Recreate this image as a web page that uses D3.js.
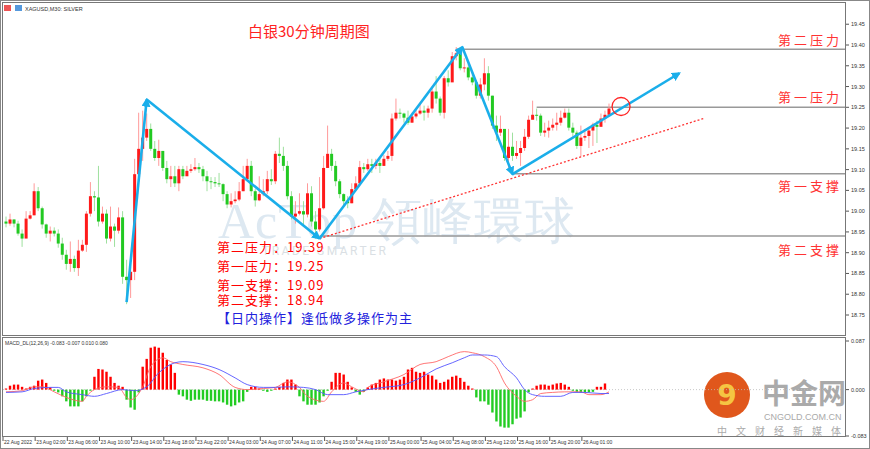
<!DOCTYPE html>
<html><head><meta charset="utf-8">
<script src="https://cdn.jsdelivr.net/npm/d3@7"></script>
<style>body{margin:0;background:#fff}svg{display:block}</style>
</head><body>
<script>
const firstOpen = 18.975;
const closes = [18.970,18.980,18.970,18.946,18.934,18.982,18.990,19.048,19.007,18.968,18.946,18.953,18.946,18.922,18.895,18.873,18.885,18.863,18.905,18.919,18.994,19.036,19.033,18.975,18.994,18.934,18.963,18.953,18.985,18.842,18.834,18.854,19.089,19.150,19.177,19.198,19.150,19.128,19.145,19.104,19.077,19.084,19.067,19.101,19.084,19.097,19.101,19.106,19.101,19.084,19.072,19.070,19.067,19.065,19.041,19.016,19.024,19.028,19.048,19.077,19.109,19.048,19.026,19.041,19.048,19.077,19.072,19.138,19.133,19.109,19.036,18.987,18.994,19.000,18.992,19.043,18.975,18.956,19.007,19.104,19.138,19.109,19.072,19.041,19.024,19.019,19.053,19.067,19.106,19.101,19.113,19.109,19.116,19.109,19.126,19.133,19.223,19.237,19.235,19.225,19.213,19.228,19.235,19.242,19.237,19.247,19.288,19.271,19.237,19.320,19.310,19.373,19.380,19.344,19.346,19.322,19.310,19.278,19.305,19.332,19.278,19.206,19.189,19.198,19.128,19.155,19.133,19.140,19.152,19.179,19.220,19.232,19.230,19.189,19.194,19.201,19.208,19.213,19.225,19.237,19.201,19.189,19.157,19.177,19.181,19.194,19.208,19.203,19.223,19.232,19.247];
const highs = [18.987,18.994,18.980,18.977,18.956,19.000,19.000,19.067,19.058,19.011,18.970,18.963,18.961,18.956,18.936,18.907,18.927,18.893,18.931,18.931,19.000,19.070,19.048,19.109,19.011,19.004,19.011,18.970,19.009,19.000,18.883,18.866,19.126,19.237,19.242,19.235,19.211,19.169,19.172,19.145,19.121,19.109,19.109,19.109,19.109,19.109,19.113,19.128,19.116,19.109,19.097,19.082,19.082,19.092,19.067,19.048,19.043,19.048,19.070,19.109,19.126,19.121,19.053,19.084,19.077,19.097,19.101,19.145,19.177,19.155,19.121,19.048,19.024,19.043,19.024,19.067,19.060,19.000,19.082,19.133,19.206,19.150,19.121,19.077,19.043,19.036,19.067,19.084,19.121,19.116,19.126,19.126,19.126,19.128,19.135,19.145,19.235,19.271,19.247,19.237,19.242,19.237,19.247,19.259,19.254,19.254,19.300,19.325,19.276,19.325,19.339,19.383,19.395,19.395,19.368,19.354,19.334,19.315,19.320,19.368,19.349,19.278,19.230,19.230,19.194,19.198,19.189,19.169,19.169,19.198,19.230,19.266,19.247,19.235,19.213,19.218,19.223,19.237,19.242,19.247,19.247,19.213,19.194,19.206,19.198,19.198,19.213,19.218,19.235,19.242,19.259];
const lows = [18.961,18.965,18.961,18.941,18.914,18.939,18.980,18.990,19.000,18.958,18.936,18.927,18.939,18.912,18.883,18.859,18.854,18.854,18.844,18.902,18.902,18.987,19.000,18.963,18.970,18.922,18.927,18.914,18.946,18.825,18.776,18.791,18.834,19.092,19.121,19.169,19.145,19.121,19.109,19.097,19.067,19.058,19.058,19.048,19.077,19.087,19.092,19.097,19.092,19.072,19.048,19.053,19.058,19.058,19.024,19.007,19.009,19.019,19.024,19.048,19.101,19.036,19.011,19.024,19.036,19.041,19.063,19.065,19.116,19.097,19.028,18.980,18.970,18.990,18.963,18.985,18.963,18.934,18.951,19.004,19.121,19.097,19.060,19.031,19.011,19.007,19.019,19.048,19.060,19.092,19.097,19.092,19.101,19.092,19.109,19.121,19.121,19.218,19.223,19.213,19.208,19.213,19.223,19.232,19.218,19.225,19.237,19.259,19.230,19.223,19.300,19.327,19.363,19.339,19.334,19.315,19.303,19.271,19.271,19.291,19.266,19.198,19.169,19.181,19.121,19.097,19.121,19.126,19.109,19.145,19.174,19.223,19.218,19.181,19.179,19.177,19.194,19.194,19.206,19.223,19.194,19.179,19.150,19.131,19.169,19.152,19.157,19.164,19.206,19.213,19.230];
// MACD in thousandths
const histK = [2,7,9,9,5,2,5,7,16,18,12,4,-2,-5,-12,-21,-30,-30,-30,-21,-12,-2,23,37,36,32,23,12,7,5,-18,-32,-36,-5,41,55,75,77,75,66,53,45,30,-9,-12,-18,-20,-18,-18,-18,-20,-20,-21,-21,-23,-27,-30,-28,-23,-21,-4,5,5,2,-2,-4,-2,2,5,12,18,18,9,-12,-21,-27,-27,-27,-23,-12,-2,14,30,30,27,14,4,-4,-9,-4,4,9,12,18,20,18,18,16,18,23,36,39,32,30,32,27,25,18,12,14,18,23,25,21,14,7,2,-14,-21,-21,-27,-41,-57,-66,-68,-68,-62,-52,-50,-39,-5,2,7,9,9,7,9,11,12,9,5,-2,-4,-5,-5,-5,-4,5,5,11];
const macdIdx = [0,4,7,9,12,15,19,20,22,25,28,30,31,34,36,39,41,44,49,53,57,60,64,67,70,73,75,79,81,84,86,89,90,94,99,103,107,110,114,116,119,122,124,127,129,131,133,136,139,143,145,148,150];
const macdK = [-4,-2,5,5,-4,-14,-21,-12,0,5,4,-14,-18,5,41,57,50,45,39,27,4,0,2,4,14,4,-12,-21,-4,12,5,-4,4,14,27,45,50,59,68,66,59,41,12,-12,-21,-18,-7,-5,-4,-4,-9,-9,-4];
const sigIdx = [0,4,7,11,13,15,19,22,25,29,32,35,38,42,44,49,53,57,60,64,67,70,74,77,80,84,87,90,94,99,103,107,111,114,116,119,122,124,127,129,131,134,138,141,144,148,150];
const sigK = [-5,-4,2,4,4,-4,-9,-12,-7,0,-2,5,30,48,50,45,36,21,9,4,4,5,4,0,-9,-9,-4,0,4,9,21,37,48,57,62,62,59,41,21,0,-9,-12,-12,-5,-5,-7,-7];
const timeLabels = ["22 Aug 2022","23 Aug 02:00","23 Aug 06:00","23 Aug 10:00","23 Aug 14:00","23 Aug 18:00","23 Aug 22:00","24 Aug 03:00","24 Aug 07:00","24 Aug 11:00","24 Aug 15:00","24 Aug 19:00","25 Aug 00:00","25 Aug 04:00","25 Aug 08:00","25 Aug 12:00","25 Aug 16:00","25 Aug 20:00","26 Aug 01:00"];
const priceTicks = [19.45,19.40,19.35,19.30,19.25,19.20,19.15,19.10,19.05,19.00,18.95,18.90,18.85,18.80,18.75];
const levels = [{p:19.39,from:112,label:"第二压力",ly:40},{p:19.25,from:132,label:"第一压力",ly:97},{p:19.09,from:126,label:"第一支撑",ly:186},{p:18.94,from:78,label:"第二支撑",ly:250}];
const wavePts = [[30,18.781],[35,19.269],[78,18.934],[113.5,19.395],[126,19.089],[167.5,19.332]];
const trendPts = [[78,18.934],[173.5,19.223]];
const circlePt = [153,19.252];
const notes = ["第二压力：19.39","第一压力：19.25","第一支撑：19.09","第二支撑：18.94"];

const W=870,H=449;
const svg=d3.select("body").append("svg").attr("width",W).attr("height",H);
const x=d3.scaleLinear().domain([0,150]).range([6,609]);
const y=d3.scaleLinear().domain([19.40,18.75]).range([45,315]);
const ym=d3.scaleLinear().domain([87,-83]).range([341,436]);
const cjk='"Noto Sans CJK SC",sans-serif';

svg.append("rect").attr("x",0.5).attr("y",0.5).attr("width",W-1).attr("height",H-1).attr("fill","#fff").attr("stroke","#888");
svg.append("rect").attr("x",2.5).attr("y",2.5).attr("width",843).attr("height",333).attr("fill","none").attr("stroke","#777");
svg.append("rect").attr("x",2.5).attr("y",337.5).attr("width",843).attr("height",99).attr("fill","none").attr("stroke","#777");

// watermarks
svg.append("text").attr("x",218).attr("y",238).attr("font-family","Liberation Serif,serif").attr("font-size",50).attr("letter-spacing",1).attr("fill","#dde8f1").text("AcTop 領峰環球");
svg.append("text").attr("x",262).attr("y",255).attr("font-family","Roboto,sans-serif").attr("font-size",12).attr("letter-spacing",2.5).attr("fill","#dadfe4").text("TRADE SMARTER");
svg.append("circle").attr("cx",727).attr("cy",395).attr("r",23).attr("fill","#e0571c");
svg.append("text").attr("x",727).attr("y",405).attr("text-anchor","middle").attr("font-size",28).attr("font-weight","bold").attr("font-family","DejaVu Sans").attr("fill","#f5c542").text("9");
svg.append("text").attr("x",762).attr("y",404).attr("font-family",cjk).attr("font-size",28).attr("font-weight","bold").attr("fill","#aaa").text("中金网");
svg.append("text").attr("x",764).attr("y",420).attr("font-family","Liberation Sans").attr("font-size",9).attr("fill","#aaa").text("CNGOLD.COM.CN");
svg.append("text").attr("x",717).attr("y",435).attr("font-family",cjk).attr("font-size",10).attr("letter-spacing",9).attr("fill","#aaa").text("中文财经新媒体");

// header
svg.append("rect").attr("x",4).attr("y",5).attr("width",7).attr("height",6).attr("fill","#e55");
svg.append("rect").attr("x",15).attr("y",5).attr("width",7).attr("height",6).attr("fill","#59d");
svg.append("text").attr("x",25).attr("y",11).attr("font-family","Liberation Sans").attr("font-size",5.5).attr("fill","#333").text("XAGUSD,M30: SILVER");
svg.append("text").attr("x",248).attr("y",37).attr("font-family",cjk).attr("font-size",15).attr("fill","#f22").text("白银30分钟周期图");

// price axis
priceTicks.forEach(p=>{
  svg.append("line").attr("x1",846).attr("x2",849).attr("y1",y(p)).attr("y2",y(p)).attr("stroke","#555");
  svg.append("text").attr("x",851).attr("y",y(p)+2).attr("font-family","Liberation Sans").attr("font-size",5.5).attr("fill","#333").text(p.toFixed(2));
});

levels.forEach(l=>{
  svg.append("line").attr("x1",x(l.from)).attr("x2",845).attr("y1",y(l.p)).attr("y2",y(l.p)).attr("stroke","#999").attr("stroke-width",1.5);
  svg.append("text").attr("x",842).attr("y",l.ly+5).attr("text-anchor","end").attr("font-family",cjk).attr("font-size",13).attr("letter-spacing",3).attr("fill","#f33").text(l.label);
});

// candles
const g=svg.append("g");
closes.forEach((c,i)=>{
  const o=i===0?firstOpen:closes[i-1];
  const up=c>o, dn=c<o;
  const col=up?"#ff1a1a":dn?"#22c922":"#333";
  const wc=up?"#ff9a9a":dn?"#9ee09e":"#555";
  g.append("line").attr("x1",x(i)).attr("x2",x(i)).attr("y1",y(highs[i])).attr("y2",y(lows[i])).attr("stroke",wc).attr("stroke-width",1);
  const t=y(Math.max(o,c)),b=y(Math.min(o,c));
  g.append("rect").attr("x",x(i)-1.5).attr("y",t).attr("width",3).attr("height",Math.max(1,b-t)).attr("fill",col);
});

svg.append("line").attr("x1",x(trendPts[0][0])).attr("y1",y(trendPts[0][1])).attr("x2",x(trendPts[1][0])).attr("y2",y(trendPts[1][1])).attr("stroke","#f33").attr("stroke-width",1.3).attr("stroke-dasharray","2,2");

svg.append("defs").append("marker").attr("id","ah").attr("viewBox","0 0 10 10").attr("refX",8).attr("refY",5).attr("markerWidth",3.5).attr("markerHeight",3.5).attr("orient","auto").append("path").attr("d","M0,0L10,5L0,10z").attr("fill","#1aaeea");
for(let k=0;k<wavePts.length-1;k++){
  svg.append("path").attr("d",d3.line().x(d=>x(d[0])).y(d=>y(d[1]))([wavePts[k],wavePts[k+1]])).attr("fill","none").attr("stroke","#1aaeea").attr("stroke-width",2.6).attr("marker-end","url(#ah)");
}
svg.append("circle").attr("cx",x(circlePt[0])).attr("cy",y(circlePt[1])).attr("r",9).attr("fill","none").attr("stroke","#f22").attr("stroke-width",1.3);

const ny=[252,271,290,305];
notes.forEach((n,i)=>svg.append("text").attr("x",217).attr("y",ny[i]).attr("font-family",cjk).attr("font-size",13).attr("letter-spacing",1).attr("fill","#f00").text(n));
svg.append("text").attr("x",217).attr("y",323).attr("font-family",cjk).attr("font-size",13).attr("letter-spacing",1).attr("fill","#22d").text("【日内操作】逢低做多操作为主");

// MACD
svg.append("text").attr("x",5).attr("y",345).attr("font-family","Liberation Sans").attr("font-size",5).attr("fill","#333").text("MACD_DL(12,26,9) -0.083 -0.007 0.010 0.080");
svg.append("line").attr("x1",3).attr("x2",845).attr("y1",ym(0)).attr("y2",ym(0)).attr("stroke","#bbb").attr("stroke-width",0.8).attr("stroke-dasharray","1,2");
histK.forEach((v,i)=>{
  svg.append("rect").attr("x",x(i)-1.2).attr("y",Math.min(ym(v),ym(0))).attr("width",2.4).attr("height",Math.max(0.8,Math.abs(ym(v)-ym(0)))).attr("fill",v>=0?"#f00":"#2c2");
});
svg.append("path").attr("d",d3.line().x((d,i)=>x(macdIdx[i])).y(d=>ym(d)).curve(d3.curveMonotoneX)(macdK)).attr("fill","none").attr("stroke","#f66").attr("stroke-width",0.9);
svg.append("path").attr("d",d3.line().x((d,i)=>x(sigIdx[i])).y(d=>ym(d)).curve(d3.curveMonotoneX)(sigK)).attr("fill","none").attr("stroke","#55f").attr("stroke-width",0.9);
[87,0,-83].forEach(v=>{
  svg.append("line").attr("x1",846).attr("x2",849).attr("y1",ym(v)).attr("y2",ym(v)).attr("stroke","#555");
  svg.append("text").attr("x",851).attr("y",ym(v)+2).attr("font-family","Liberation Sans").attr("font-size",5.5).attr("fill","#333").text((v/1000).toFixed(3));
});

timeLabels.forEach((t,k)=>{
  const xx=x(k*8)-3;
  svg.append("line").attr("x1",xx).attr("x2",xx).attr("y1",437).attr("y2",441).attr("stroke","#555");
  svg.append("text").attr("x",xx+1).attr("y",444).attr("font-family","Liberation Sans").attr("font-size",5).attr("fill","#333").text(t);
});
</script>
</body></html>
